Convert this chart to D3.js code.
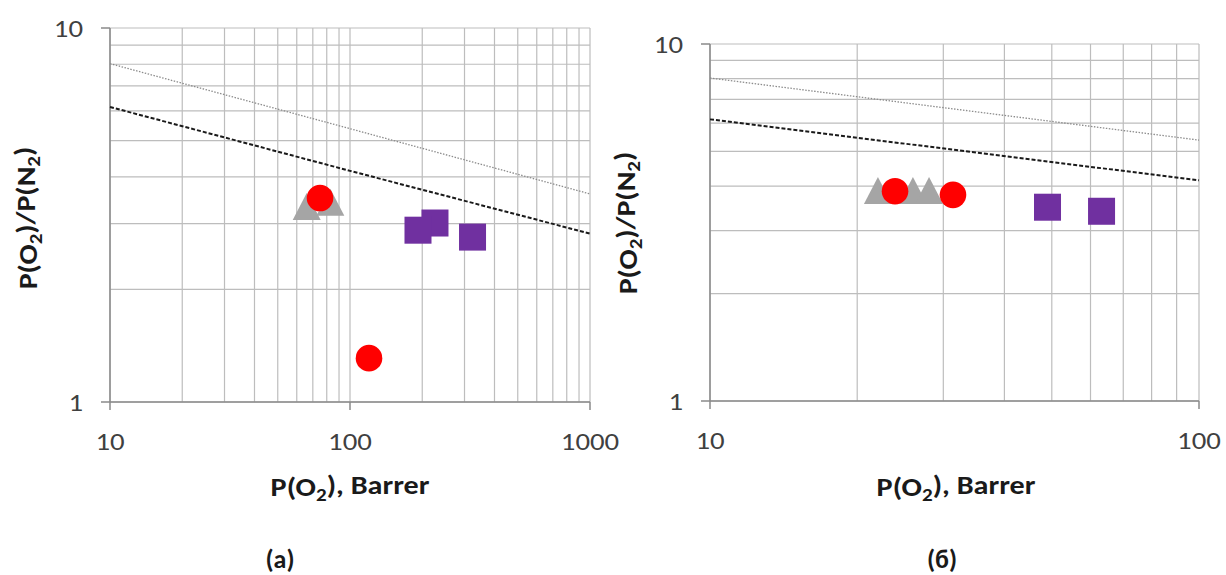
<!DOCTYPE html>
<html lang="ru">
<head>
<meta charset="utf-8" />
<script src="https://d3js.org/d3.v7.min.js"></script>
<style>
  html, body { margin: 0; padding: 0; background: #fff; }
  text { font-family: Carlito, Calibri, Lato, sans-serif; }
</style>
</head>
<body>
<svg id="canvas" width="1226" height="575"></svg>
<script>

// upper / lower bound lines (same in both panels)
var boundX = [10, 100, 1000];
var upperBound = [8.03, 5.38, 3.6];
var lowerBound = [6.15, 4.15, 2.82];

var yTicks = [1, 10];

// panel (a)
var xTicksA = [10, 100, 1000];
var triA = [[66, 3.33], [82.8, 3.42]];
var circA = [[75, 3.51], [120, 1.31]];
var sqA = [[226, 3.01], [192, 2.88], [324, 2.76]];

// panel (б)
var xTicksB = [10, 100];
var triB = [[22.05, 3.89], [26, 3.89], [28.05, 3.89]];
var circB = [[23.9, 3.87], [31.4, 3.78]];
var sqB = [[49, 3.49], [63.2, 3.40]];

var svg = d3.select("#canvas");

function subLabel(sel, parts) {
  // parts: [text, isSub, backUp]
  parts.forEach(function(p) {
    var t = sel.append("tspan").text(p[0]);
    if (p[1]) t.attr("font-size", "0.7em").attr("dy", "0.25em");
    else if (p[2]) t.attr("dy", "-0.25em");
  });
}

function panel(cfg) {
  var x = d3.scaleLog().domain(cfg.xDomain).range([cfg.x0, cfg.x1]);
  var y = d3.scaleLog().domain([1, 10]).range([cfg.y1, cfg.y0]);
  var g = svg.append("g");

  // grid
  g.append("g").selectAll("line").data(x.ticks()).enter().append("line")
    .attr("x1", d => x(d)).attr("x2", d => x(d))
    .attr("y1", cfg.y0).attr("y2", cfg.y1)
    .attr("stroke", "#bdbdbd").attr("stroke-width", 1.2);
  g.append("g").selectAll("line").data(y.ticks()).enter().append("line")
    .attr("x1", cfg.x0).attr("x2", cfg.x1)
    .attr("y1", d => y(d)).attr("y2", d => y(d))
    .attr("stroke", "#bdbdbd").attr("stroke-width", 1.2);

  // axes
  g.append("line").attr("x1", cfg.x0).attr("x2", cfg.x1).attr("y1", cfg.y1).attr("y2", cfg.y1)
    .attr("stroke", "#8a8a8a").attr("stroke-width", 1.5);
  g.append("line").attr("x1", cfg.x0).attr("x2", cfg.x0).attr("y1", cfg.y0).attr("y2", cfg.y1)
    .attr("stroke", "#8a8a8a").attr("stroke-width", 1.5);
  g.append("g").selectAll("line").data(cfg.xTicks).enter().append("line")
    .attr("x1", d => x(d)).attr("x2", d => x(d))
    .attr("y1", cfg.y1).attr("y2", cfg.y1 + 8)
    .attr("stroke", "#8a8a8a").attr("stroke-width", 1.5);
  g.append("g").selectAll("line").data(yTicks).enter().append("line")
    .attr("x1", cfg.x0 - 9).attr("x2", cfg.x0)
    .attr("y1", d => y(d)).attr("y2", d => y(d))
    .attr("stroke", "#8a8a8a").attr("stroke-width", 1.5);

  // tick labels (source font is a bit wider, so stretch horizontally)
  g.append("g").selectAll("text").data(cfg.xTicks).enter().append("text")
    .attr("transform", d => "translate(" + x(d) + "," + (cfg.y1 + 48) + ") scale(1.2,1)")
    .attr("text-anchor", "middle").attr("font-size", 24).attr("fill", "#404040")
    .text(d => d);
  g.append("g").selectAll("text").data(yTicks).enter().append("text")
    .attr("transform", d => "translate(" + (cfg.x0 - 27) + "," + (y(d) + 9) + ") scale(1.2,1)")
    .attr("text-anchor", "end").attr("font-size", 24).attr("fill", "#404040")
    .text(d => d);

  // bound lines
  var line = d3.line().x(d => x(d[0])).y(d => y(d[1]));
  var clip = boundX.filter(v => v <= cfg.xDomain[1]);
  g.append("path")
    .attr("d", line(clip.map((v, i) => [v, upperBound[i]])))
    .attr("fill", "none").attr("stroke", "#8c8c8c").attr("stroke-width", 1.3)
    .attr("stroke-dasharray", "1.5,1.5");
  g.append("path")
    .attr("d", line(clip.map((v, i) => [v, lowerBound[i]])))
    .attr("fill", "none").attr("stroke", "#1a1a1a").attr("stroke-width", 2)
    .attr("stroke-dasharray", "4,2");

  // markers
  g.append("g").selectAll("path").data(cfg.tri).enter().append("path")
    .attr("d", d => { var cx = x(d[0]), cy = y(d[1]);
      return "M" + (cx - 14) + "," + (cy + 13.5) + "L" + cx + "," + (cy - 13.5) + "L" + (cx + 14) + "," + (cy + 13.5) + "Z"; })
    .attr("fill", "#a5a5a5");
  g.append("g").selectAll("circle").data(cfg.circ).enter().append("circle")
    .attr("cx", d => x(d[0])).attr("cy", d => y(d[1])).attr("r", 13.3)
    .attr("fill", "#ff0000");
  g.append("g").selectAll("rect").data(cfg.sq).enter().append("rect")
    .attr("x", d => x(d[0]) - 13.5).attr("y", d => y(d[1]) - 13.5)
    .attr("width", 27).attr("height", 27)
    .attr("fill", "#7030a0");

  // axis titles
  var xt = g.append("text")
    .attr("transform", "translate(" + cfg.xTitleX + ",496) scale(1.16,1)")
    .attr("text-anchor", "middle").attr("font-size", 26).attr("font-weight", "bold").attr("fill", "#1a1a1a");
  subLabel(xt, [["P(O"], ["2", true], [")", false, true], [", Barrer"]]);

  var yt = g.append("text")
    .attr("transform", "translate(" + cfg.yTitleX + "," + cfg.yTitleY + ") rotate(-90) scale(1.15,1)")
    .attr("text-anchor", "middle").attr("font-size", 26).attr("font-weight", "bold").attr("fill", "#1a1a1a");
  subLabel(yt, [["P(O"], ["2", true], [")/P(N", false, true], ["2", true], [")", false, true]]);

  svg.append("text").attr("x", cfg.labelX).attr("y", 568)
    .attr("text-anchor", "middle").attr("font-size", 26).attr("font-weight", "bold").attr("fill", "#1a1a1a")
    .text(cfg.label);
}

panel({ xDomain: [10, 1000], xTicks: xTicksA, x0: 110, x1: 590, y0: 28, y1: 402,
  tri: triA, circ: circA, sq: sqA, xTitleX: 350, yTitleX: 37, yTitleY: 218, labelX: 280, label: "(a)" });
panel({ xDomain: [10, 100], xTicks: xTicksB, x0: 710, x1: 1199, y0: 44, y1: 401,
  tri: triB, circ: circB, sq: sqB, xTitleX: 956, yTitleX: 637, yTitleY: 223, labelX: 942, label: "(б)" });

</script>
</body>
</html>
